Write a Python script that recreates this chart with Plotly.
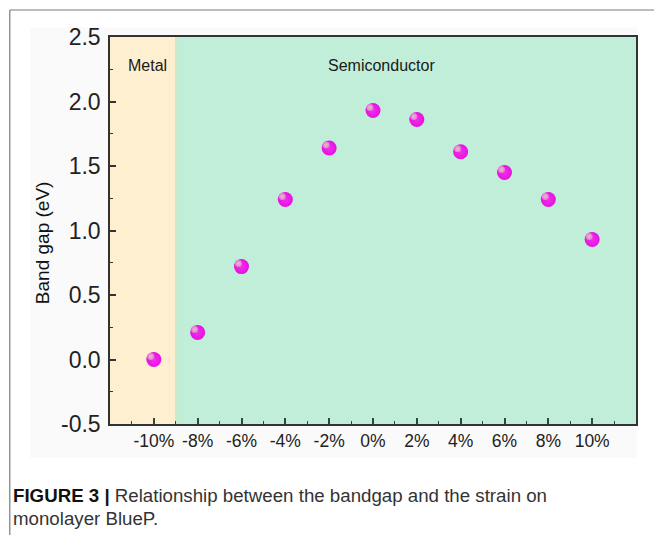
import plotly.graph_objects as go

# Strain (%) and band gap (eV) of monolayer BlueP
strain = [-10, -8, -6, -4, -2, 0, 2, 4, 6, 8, 10]
band_gap = [0.0, 0.21, 0.72, 1.24, 1.64, 1.93, 1.86, 1.61, 1.45, 1.24, 0.93]

x_tick_vals = [-10, -8, -6, -4, -2, 0, 2, 4, 6, 8, 10]
x_tick_text = ["-10%", "-8%", "-6%", "-4%", "-2%", "0%", "2%", "4%", "6%", "8%", "10%"]
y_tick_vals = [-0.5, 0.0, 0.5, 1.0, 1.5, 2.0, 2.5]
y_tick_text = ["-0.5", "0.0", "0.5", "1.0", "1.5", "2.0", "2.5"]

x_range = [-12, 12]
y_range = [-0.5, 2.5]
metal_edge = -9

# plot area size in pixels, used to nudge the sphere highlight a few pixels
plot_w, plot_h = 654 - 110 - 18, 535 - 37 - 111
shift_px = 3
dx = shift_px * (x_range[1] - x_range[0]) / plot_w
dy = shift_px * (y_range[1] - y_range[0]) / plot_h

fig = go.Figure()

# magenta spheres
fig.add_trace(go.Scatter(
    x=strain, y=band_gap, mode="markers",
    marker=dict(size=15, color="#e810e0",
                gradient=dict(type="radial", color="#f030ea"),
                line=dict(width=0)),
    showlegend=False, hoverinfo="x+y",
))
# specular highlight, drawn on slightly offset overlay axes
fig.add_trace(go.Scatter(
    x=strain, y=band_gap, mode="markers", xaxis="x2", yaxis="y2",
    marker=dict(size=7, color="#ee70e6",
                gradient=dict(type="radial", color="#d6ccb0"),
                line=dict(width=0)),
    showlegend=False, hoverinfo="skip",
))

shapes = [
    # light panel behind the chart
    dict(type="rect", xref="paper", yref="paper", x0=-0.1521, x1=1.0019,
         y0=-0.088, y1=1.0245, fillcolor="#fafafa", line=dict(width=0), layer="below"),
    # phase regions
    dict(type="rect", xref="x", yref="y", x0=x_range[0], x1=metal_edge,
         y0=y_range[0], y1=y_range[1], fillcolor="#fdefd0", line=dict(width=0), layer="below"),
    dict(type="rect", xref="x", yref="y", x0=metal_edge, x1=x_range[1],
         y0=y_range[0], y1=y_range[1], fillcolor="#c0eed9", line=dict(width=0), layer="below"),
    dict(type="line", xref="x", yref="y", x0=metal_edge, x1=metal_edge,
         y0=y_range[0], y1=y_range[1], line=dict(color="#d6e8b8", width=1.5), layer="below"),
    # outer frame lines
    dict(type="line", xref="paper", yref="paper", x0=-0.1905, x1=1.04,
         y0=1.0698, y1=1.0698, line=dict(color="#7a7a7a", width=1.2)),
    dict(type="line", xref="paper", yref="paper", x0=-0.1905, x1=-0.1905,
         y0=1.0698, y1=-0.3, line=dict(color="#7a7a7a", width=1.2)),
]

caption_font = dict(family="Liberation Sans, Arial", size=18.7, color="#333")
annotations = [
    dict(x=-10.3, y=2.28, xref="x", yref="y", text="Metal", showarrow=False,
         font=dict(family="Liberation Sans, Arial", size=16, color="#1a1a1a")),
    dict(x=0.4, y=2.28, xref="x", yref="y", text="Semiconductor", showarrow=False,
         font=dict(family="Liberation Sans, Arial", size=16, color="#1a1a1a")),
    # y-axis title
    dict(x=-0.129, y=0.4677, xref="paper", yref="paper", textangle=-90,
         xanchor="center", yanchor="middle", showarrow=False, text="Band gap (eV)",
         font=dict(family="Liberation Sans, Arial", size=19, color="#111")),
    dict(x=-0.1885, y=-0.1835, xref="paper", yref="paper", xanchor="left", yanchor="middle",
         showarrow=False, align="left",
         text="<b><span style='color:#111'>FIGURE 3 |</span></b> Relationship between the bandgap and the strain on",
         font=caption_font),
    dict(x=-0.1885, y=-0.243, xref="paper", yref="paper", xanchor="left", yanchor="middle",
         showarrow=False, align="left", text="monolayer BlueP.", font=caption_font),
]

fig.update_layout(
    width=654, height=535,
    margin=dict(l=110, r=18, t=37, b=111),
    paper_bgcolor="white", plot_bgcolor="rgba(0,0,0,0)",
    shapes=shapes, annotations=annotations,
    font=dict(family="Liberation Sans, Arial", color="#222"),
    xaxis=dict(
        range=x_range, tickmode="array", tickvals=x_tick_vals, ticktext=x_tick_text,
        ticks="inside", ticklen=6, tickwidth=1.5, tickcolor="#2f4a3a",
        minor=dict(ticks="inside", ticklen=3, tickwidth=1.2, dtick=1, tickcolor="#2f4a3a"),
        showline=True, linecolor="#333", linewidth=1.5, mirror=True,
        showgrid=False, zeroline=False,
        tickfont=dict(size=17.5, color="#222"),
    ),
    yaxis=dict(
        range=y_range, tickmode="array", tickvals=y_tick_vals, ticktext=y_tick_text,
        ticks="inside", ticklen=6, tickwidth=1.5, tickcolor="#333",
        minor=dict(ticks="inside", ticklen=3, tickwidth=1.2, dtick=0.25, tickcolor="#333"),
        showline=True, linecolor="#333", linewidth=1.5, mirror=True,
        showgrid=False, zeroline=False,
        tickfont=dict(size=23, color="#222"), ticklabelstandoff=3,
    ),
    xaxis2=dict(overlaying="x", range=[x_range[0] + dx, x_range[1] + dx], visible=False),
    yaxis2=dict(overlaying="y", range=[y_range[0] - dy, y_range[1] - dy], visible=False),
)

fig.write_html("out.html")
